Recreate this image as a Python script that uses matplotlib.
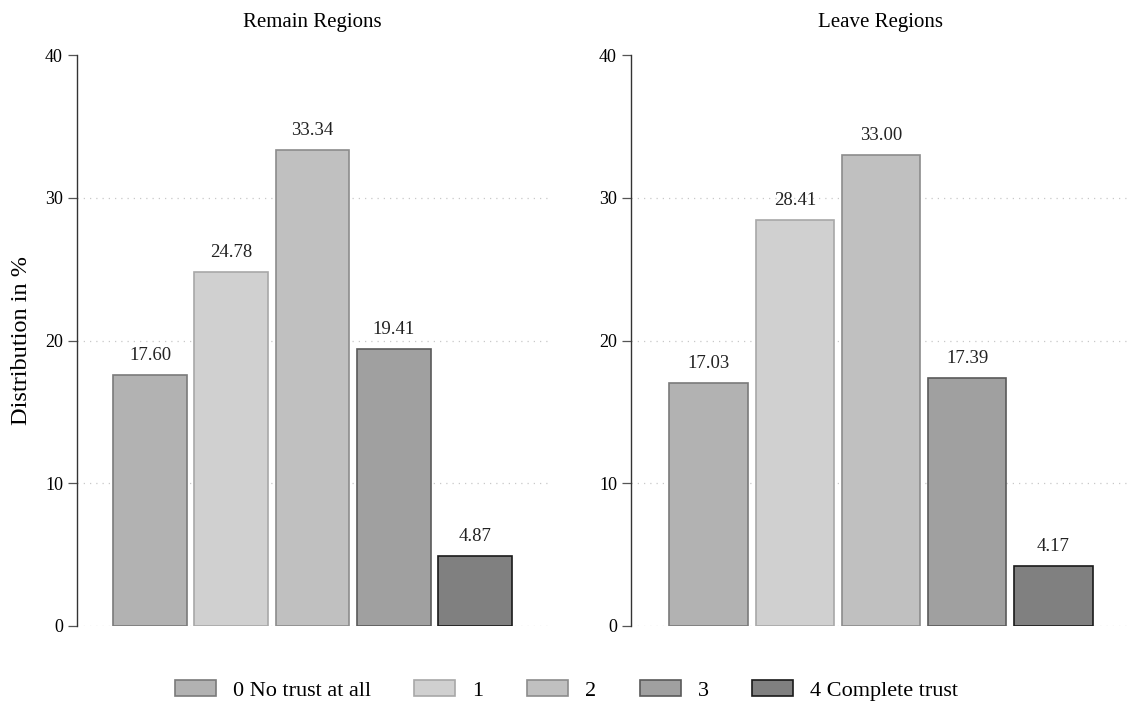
import matplotlib
matplotlib.use("Agg")
from matplotlib import pyplot as plt
from matplotlib.patches import Patch

plt.rcParams['font.family'] = ['Liberation Serif', 'DejaVu Serif']

# categories and values
categories = ['0 No trust at all', '1', '2', '3', '4 Complete trust']
remain_values = [17.60, 24.78, 33.34, 19.41, 4.87]
leave_values = [17.03, 28.41, 33.00, 17.39, 4.17]
panel_titles = ['Remain Regions', 'Leave Regions']
yticks = [0, 10, 20, 30, 40]

face_colors = ['#b2b2b2', '#d0d0d0', '#c0c0c0', '#a0a0a0', '#808080']
edge_colors = ['#7a7a7a', '#a8a8a8', '#8c8c8c', '#5a5a5a', '#1a1a1a']

fig = plt.figure(figsize=(11.33, 7.06), dpi=100)
ax_left = fig.add_axes([77 / 1133, 80 / 706, 471 / 1133, 571 / 706])
ax_right = fig.add_axes([631 / 1133, 80 / 706, 500 / 1133, 571 / 706])


def draw_panel(ax, values, title):
    x = list(range(len(values)))
    bars = ax.bar(x, values, width=0.91, color=face_colors,
                  edgecolor=edge_colors, linewidth=1.2, zorder=3)
    for bar, v in zip(bars, values):
        ax.annotate('%.2f' % v, (bar.get_x() + bar.get_width() / 2, v),
                    xytext=(0, 8), textcoords='offset points',
                    ha='center', va='bottom', fontsize=13.5, color='#222222')
    # dotted horizontal grid, Stata style
    for y in yticks[:-1]:
        ax.axhline(y, color='#c8c8c8', linestyle=(0, (1, 4)), linewidth=0.9, zorder=1)
    ax.set_xlim(-0.9, 4.9)
    ax.set_ylim(0, 40)
    ax.set_yticks(yticks)
    ax.set_xticks([])
    ax.tick_params(axis='y', direction='out', length=6.5, width=0.9,
                   color='#555555', labelsize=13, pad=3.6)
    for side in ['top', 'right', 'bottom']:
        ax.spines[side].set_visible(False)
    ax.spines['left'].set_color('#333333')
    ax.spines['left'].set_linewidth(1.0)
    ax.set_title(title, fontsize=15, pad=20.5)


draw_panel(ax_left, remain_values, panel_titles[0])
draw_panel(ax_right, leave_values, panel_titles[1])
ax_left.set_ylabel('Distribution in %', fontsize=17.5, labelpad=9)

handles = [Patch(facecolor=fc, edgecolor=ec, linewidth=1.2)
           for fc, ec in zip(face_colors, edge_colors)]
fig.legend(handles, categories, loc='center', bbox_to_anchor=(0.5, 0.022),
           ncol=5, frameon=False, fontsize=16, handlelength=1.85,
           handleheight=0.75, handletextpad=0.77, columnspacing=1.95)

fig.savefig('out.png', dpi=100)
